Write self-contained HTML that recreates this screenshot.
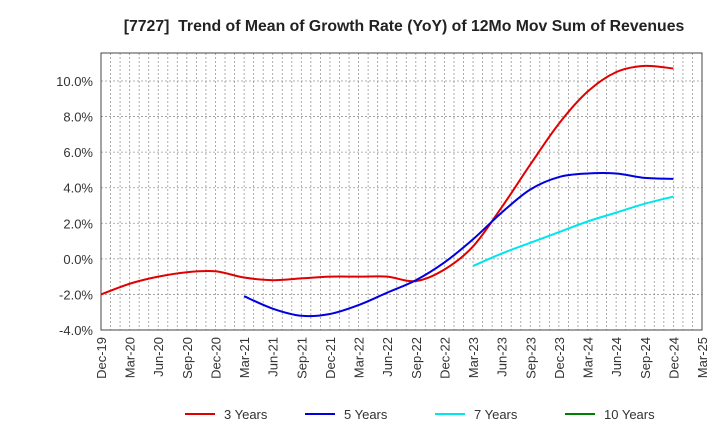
<!DOCTYPE html>
<html><head><meta charset="utf-8"><style>
body{margin:0;background:#fff;font-family:"Liberation Sans",sans-serif}
</style></head><body>
<svg id="chart" width="720" height="440" xmlns="http://www.w3.org/2000/svg">
<text x="404" y="31" text-anchor="middle" font-size="15.8" font-weight="bold" fill="#222">[7727]&#160; Trend of Mean of Growth Rate (YoY) of 12Mo Mov Sum of Revenues</text>
<g id="grid"></g><g id="axes"></g><g id="series"></g><g id="legend"></g>
</svg>
<script>
const xLabels=["Dec-19","Mar-20","Jun-20","Sep-20","Dec-20","Mar-21","Jun-21","Sep-21","Dec-21","Mar-22","Jun-22","Sep-22","Dec-22","Mar-23","Jun-23","Sep-23","Dec-23","Mar-24","Jun-24","Sep-24","Dec-24","Mar-25"];
const yTicks=[10,8,6,4,2,0,-2,-4];
const s3=[-2.0,-1.4,-1.0,-0.75,-0.7,-1.05,-1.2,-1.1,-1.0,-1.0,-1.0,-1.25,-0.6,0.7,2.9,5.3,7.6,9.4,10.5,10.85,10.7];
const s3Start=0;
const s5=[-2.1,-2.8,-3.2,-3.1,-2.6,-1.9,-1.2,-0.2,1.1,2.6,3.9,4.6,4.8,4.8,4.55,4.5];
const s5Start=5;
const s7=[-0.4,0.3,0.9,1.5,2.1,2.6,3.1,3.5];
const s7Start=13;
const s10=[];
const NS="http://www.w3.org/2000/svg";
const L=101,R=702,T=53,B=330;
const x=i=>L+(R-L)*i/(xLabels.length-1);
const y=v=>81+(10-v)*(330-81)/14;
function mk(t,a,p){const e=document.createElementNS(NS,t);for(const k in a)e.setAttribute(k,a[k]);document.getElementById(p).appendChild(e);return e;}
for(let m=0;m<=63;m++){const xx=L+(R-L)*m/63;
 const g=mk('line',{x1:xx,x2:xx,y1:T,y2:B,stroke:'#999','stroke-dasharray':'2,2','stroke-width':0.8},'grid');
 
 }
yTicks.forEach(v=>{const g=mk('line',{x1:L,x2:R,y1:y(v),y2:y(v),stroke:'#999','stroke-dasharray':'2,2','stroke-width':0.8},'grid');
 
 
 const t=mk('text',{x:L-8,y:y(v)+5,'text-anchor':'end','font-size':13,fill:'#333'},'axes');t.textContent=v.toFixed(1)+'%';
 
 });
const fr=mk('rect',{x:L,y:T,width:R-L,height:B-T,fill:'none',stroke:'#444','stroke-width':1},'axes');


xLabels.forEach((lb,i)=>{const t=mk('text',{x:0,y:0,'text-anchor':'end','font-size':13,fill:'#333',transform:`translate(${x(i)+5},${B+7}) rotate(-90)`},'axes');t.textContent=lb;
 
 });
function path(arr,st){const p=arr.map((v,i)=>[x(st+i),y(v)]);if(p.length<2)return '';let d=`M${p[0][0]},${p[0][1]}`;
 for(let i=0;i<p.length-1;i++){const p0=p[i-1]||p[i],p1=p[i],p2=p[i+1],p3=p[i+2]||p2;
 d+=` C${p1[0]+(p2[0]-p0[0])/6},${p1[1]+(p2[1]-p0[1])/6} ${p2[0]-(p3[0]-p1[0])/6},${p2[1]-(p3[1]-p1[1])/6} ${p2[0]},${p2[1]}`;}return d;}
[[s3,s3Start,'#e00000','line-3-years'],[s5,s5Start,'#0000e0','line-5-years'],[s7,s7Start,'#00e5ee','line-7-years'],[s10,0,'#008000','line-10-years']].forEach(([a,st,c,n])=>{
 if(a.length<2)return;const e=mk('path',{d:path(a,st),fill:'none',stroke:c,'stroke-width':2},'series');
 
 });
[['3 Years','#e00000',185],['5 Years','#0000e0',305],['7 Years','#00e5ee',435],['10 Years','#008000',565]].forEach(([t,c,lx])=>{
 const l=mk('line',{x1:lx,x2:lx+30,y1:414,y2:414,stroke:c,'stroke-width':2},'legend');
 
 
 const tx=mk('text',{x:lx+39,y:419,'font-size':13,fill:'#333'},'legend');tx.textContent=t;
 
 });
</script>
</body></html>
